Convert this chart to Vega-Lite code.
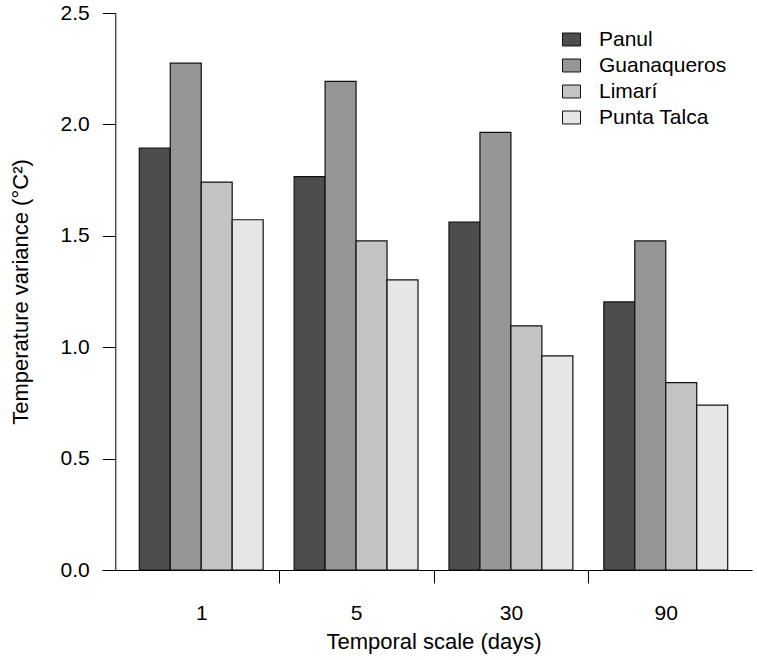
{
  "$schema": "https://vega.github.io/schema/vega-lite/v6.json",
  "width": 650,
  "height": 557,
  "autosize": {"type": "none"},
  "padding": {"left": 102, "top": 13, "right": 5, "bottom": 90},
  "background": "white",
  "config": {"view": {"stroke": null}, "font": "Liberation Sans"},
  "data": {
    "values": [
      {"scale": "1", "site": "Panul", "variance": 1.894},
      {"scale": "1", "site": "Guanaqueros", "variance": 2.275},
      {"scale": "1", "site": "Limarí", "variance": 1.741},
      {"scale": "1", "site": "Punta Talca", "variance": 1.572},
      {"scale": "5", "site": "Panul", "variance": 1.766},
      {"scale": "5", "site": "Guanaqueros", "variance": 2.193},
      {"scale": "5", "site": "Limarí", "variance": 1.477},
      {"scale": "5", "site": "Punta Talca", "variance": 1.302},
      {"scale": "30", "site": "Panul", "variance": 1.561},
      {"scale": "30", "site": "Guanaqueros", "variance": 1.964},
      {"scale": "30", "site": "Limarí", "variance": 1.096},
      {"scale": "30", "site": "Punta Talca", "variance": 0.961},
      {"scale": "90", "site": "Panul", "variance": 1.203},
      {"scale": "90", "site": "Guanaqueros", "variance": 1.477},
      {"scale": "90", "site": "Limarí", "variance": 0.841},
      {"scale": "90", "site": "Punta Talca", "variance": 0.740}
    ]
  },
  "mark": {"type": "bar", "stroke": "#111111", "strokeWidth": 1.2},
  "encoding": {
    "x": {
      "field": "scale",
      "type": "nominal",
      "sort": ["1", "5", "30", "90"],
      "scale": {"paddingInner": 0.2, "paddingOuter": 0.1988, "align": 0.6055},
      "axis": {
        "title": "Temporal scale (days)",
        "labelAngle": 0,
        "domainColor": "black",
        "domainWidth": 1,
        "tickColor": {"condition": {"test": "datum.value === '90'", "value": "transparent"}, "value": "black"},
        "tickWidth": 1,
        "tickSize": 13,
        "tickOffset": 77.45,
        "labelOffset": -77.45,
        "labelFontSize": 21,
        "labelColor": "black",
        "labelPadding": 19,
        "titleFontSize": 22,
        "titleFontWeight": "normal",
        "titleColor": "black",
        "titlePadding": 8,
        "titleX": 331.5
      }
    },
    "xOffset": {
      "field": "site",
      "type": "nominal",
      "sort": ["Panul", "Guanaqueros", "Limarí", "Punta Talca"],
      "scale": {"paddingInner": 0, "paddingOuter": 0}
    },
    "y": {
      "field": "variance",
      "type": "quantitative",
      "scale": {"domain": [0, 2.5], "nice": false, "zero": true},
      "axis": {
        "title": "Temperature variance (°C²)",
        "values": [0, 0.5, 1, 1.5, 2, 2.5],
        "format": ".1f",
        "grid": false,
        "offset": -13.3,
        "domainColor": "black",
        "tickColor": "black",
        "tickSize": 13,
        "labelFontSize": 21,
        "labelColor": "black",
        "labelPadding": 13,
        "titleFontSize": 22,
        "titleFontWeight": "normal",
        "titleColor": "black",
        "titlePadding": 28
      }
    },
    "fill": {
      "field": "site",
      "type": "nominal",
      "sort": ["Panul", "Guanaqueros", "Limarí", "Punta Talca"],
      "scale": {
        "domain": ["Panul", "Guanaqueros", "Limarí", "Punta Talca"],
        "range": ["#4d4d4d", "#969696", "#c3c3c3", "#e6e6e6"]
      },
      "legend": {
        "title": null,
        "orient": "none",
        "legendX": 459,
        "legendY": 16,
        "padding": 0,
        "labelFontSize": 21,
        "labelColor": "black",
        "labelOffset": 17,
        "rowPadding": 4,
        "symbolType": "M-1,-0.72L1,-0.72L1,0.72L-1,0.72Z",
        "symbolSize": 324,
        "symbolStrokeColor": "#111111",
        "symbolStrokeWidth": 1,
        "symbolOpacity": 1
      }
    }
  }
}
